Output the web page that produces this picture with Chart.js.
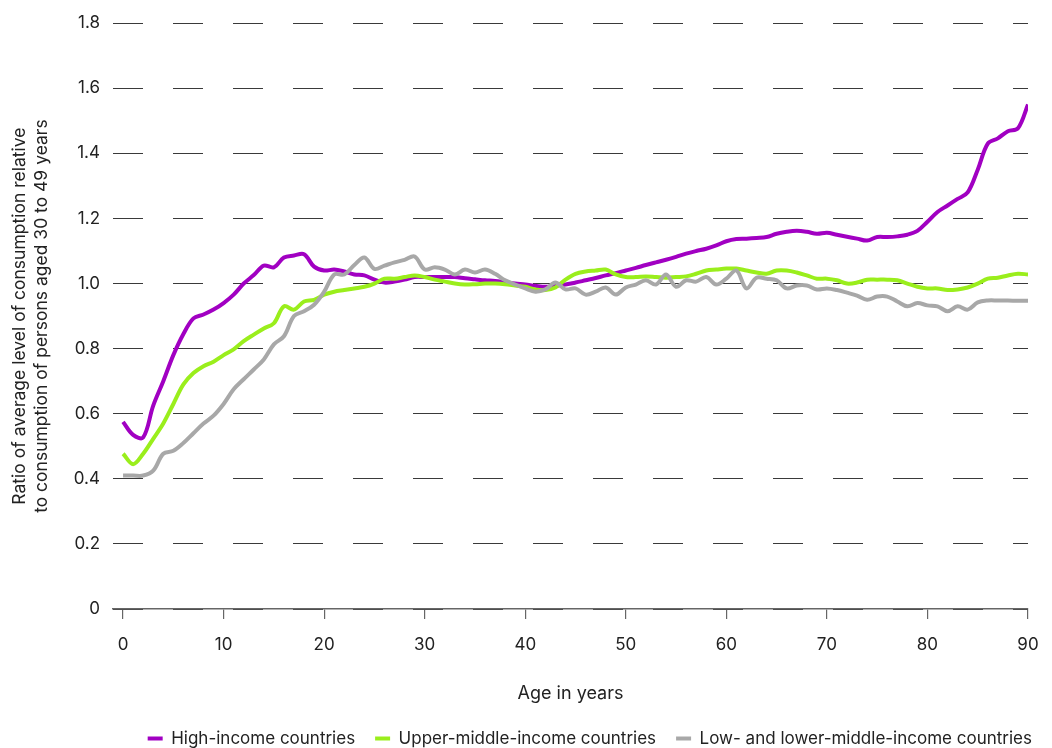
<!DOCTYPE html>
<html>
<head>
<meta charset="utf-8">
<script src="https://cdn.jsdelivr.net/npm/chart.js@4"></script>
<style>
  html, body { margin: 0; padding: 0; background: #fff; }
  #wrap { width: 1052px; height: 748px; position: relative; }
</style>
</head>
<body>
<div id="wrap"><canvas id="chart"></canvas></div>
<script>
// ─── data ────────────────────────────────────────────────────
const AGES = [
  0, 1, 2, 3, 4, 5, 6, 7, 8, 9, 10, 11, 12, 13, 14, 15, 16, 17, 18, 19,
  20, 21, 22, 23, 24, 25, 26, 27, 28, 29, 30, 31, 32, 33, 34, 35, 36, 37, 38, 39,
  40, 41, 42, 43, 44, 45, 46, 47, 48, 49, 50, 51, 52, 53, 54, 55, 56, 57, 58, 59,
  60, 61, 62, 63, 64, 65, 66, 67, 68, 69, 70, 71, 72, 73, 74, 75, 76, 77, 78, 79,
  80, 81, 82, 83, 84, 85, 86, 87, 88, 89, 90
]

const HIGH_INCOME = [
  0.575, 0.535, 0.527, 0.625, 0.700, 0.780, 0.845, 0.893, 0.905, 0.920,
  0.940, 0.966, 1.000, 1.026, 1.055, 1.050, 1.080, 1.086, 1.090, 1.052,
  1.040, 1.043, 1.037, 1.028, 1.025, 1.012, 1.003, 1.006, 1.012, 1.020,
  1.020, 1.020, 1.020, 1.020, 1.016, 1.013, 1.010, 1.008, 1.004, 1.000,
  0.997, 0.993, 0.990, 0.993, 0.997, 1.003, 1.010, 1.017, 1.025, 1.032,
  1.040, 1.048, 1.057, 1.065, 1.073, 1.082, 1.092, 1.100, 1.107, 1.117,
  1.130, 1.137, 1.138, 1.140, 1.143, 1.153, 1.159, 1.162, 1.159, 1.153,
  1.156, 1.150, 1.144, 1.138, 1.132, 1.143, 1.143, 1.145, 1.150, 1.162,
  1.190, 1.220, 1.240, 1.260, 1.280, 1.350, 1.430, 1.446, 1.468, 1.477,
  1.550
]

const UPPER_MIDDLE = [
  0.477, 0.445, 0.477, 0.523, 0.570, 0.630, 0.690, 0.725, 0.746, 0.760,
  0.780, 0.798, 0.823, 0.843, 0.862, 0.878, 0.930, 0.920, 0.945, 0.950,
  0.966, 0.975, 0.980, 0.985, 0.990, 1.000, 1.015, 1.015, 1.020, 1.025,
  1.020, 1.012, 1.006, 1.000, 0.997, 0.998, 1.000, 1.000, 0.998, 0.994,
  0.990, 0.982, 0.980, 0.988, 1.012, 1.030, 1.037, 1.040, 1.043, 1.028,
  1.020, 1.020, 1.022, 1.020, 1.018, 1.020, 1.022, 1.030, 1.040, 1.043,
  1.046, 1.046, 1.040, 1.034, 1.030, 1.040, 1.040, 1.034, 1.025, 1.015,
  1.015, 1.010, 1.000, 1.003, 1.012, 1.012, 1.012, 1.010, 1.000, 0.990,
  0.985, 0.985, 0.980, 0.982, 0.988, 1.000, 1.015, 1.018, 1.025, 1.030,
  1.028
]

const LOW_LOWER_MIDDLE = [
  0.410, 0.410, 0.410, 0.425, 0.477, 0.486, 0.510, 0.540, 0.570, 0.594,
  0.630, 0.675, 0.706, 0.736, 0.767, 0.813, 0.838, 0.900, 0.915, 0.935,
  0.975, 1.028, 1.028, 1.057, 1.080, 1.045, 1.055, 1.065, 1.073, 1.083,
  1.043, 1.050, 1.043, 1.028, 1.043, 1.034, 1.043, 1.030, 1.010, 0.997,
  0.985, 0.975, 0.982, 1.003, 0.982, 0.985, 0.966, 0.975, 0.988, 0.966,
  0.988, 0.997, 1.010, 0.997, 1.028, 0.990, 1.010, 1.006, 1.020, 0.997,
  1.015, 1.040, 0.985, 1.018, 1.015, 1.010, 0.985, 0.994, 0.994, 0.982,
  0.985, 0.980, 0.972, 0.963, 0.950, 0.960, 0.960, 0.945, 0.930, 0.940,
  0.933, 0.930, 0.915, 0.930, 0.920, 0.942, 0.948, 0.948, 0.948, 0.947,
  0.947
]

const X_TICKS = [0, 10, 20, 30, 40, 50, 60, 70, 80, 90]
const Y_TICKS = [0, 0.2, 0.4, 0.6, 0.8, 1.0, 1.2, 1.4, 1.6, 1.8]

const SERIES_LABELS = [
  'High-income countries',
  'Upper-middle-income countries',
  'Low- and lower-middle-income countries',
]

// ─── colours ─────────────────────────────────────────────────
const COLORS = {
  purple: '#A100C2',
  green:  '#9AEE1C',
  gray:   '#A8A8A8',
  text:   '#222222',
  grid:   '#3a3a3a',
  axis:   '#666666',
}

const FONT = "'Inter', 'Noto Sans', sans-serif"
Chart.defaults.font.family = FONT
Chart.defaults.color = COLORS.text

const toPoints = ys => AGES.map((a, i) => ({ x: a, y: ys[i] }))

function lineDataset(label, ys, color, order) {
  return {
    label,
    data: toPoints(ys),
    borderColor: color,
    backgroundColor: color,
    borderWidth: 4,
    pointRadius: 0,
    tension: 0.35,
    order,
  }
}

new Chart(document.getElementById('chart'), {
  type: 'line',
  data: {
    datasets: [
      lineDataset(SERIES_LABELS[0], HIGH_INCOME,      COLORS.purple, 3),
      lineDataset(SERIES_LABELS[1], UPPER_MIDDLE,     COLORS.green,  2),
      lineDataset(SERIES_LABELS[2], LOW_LOWER_MIDDLE, COLORS.gray,   1),
    ]
  },
  options: {
    responsive: true, maintainAspectRatio: false, animation: false,
    layout: { padding: { top: 20, right: 0, bottom: 0, left: 0 } },
    plugins: {
      tooltip: { enabled: false },
      legend: {
        position: 'bottom', align: 'end', maxHeight: 38,
        labels: {
          boxWidth: 15, boxHeight: 4, padding: 20,
          font: { size: 17 }, color: COLORS.text,
          sort: (a, b) => a.datasetIndex - b.datasetIndex,
          generateLabels: chart =>
            Chart.defaults.plugins.legend.labels.generateLabels(chart)
              .map(l => ({ ...l, lineWidth: 0 })),
        }
      }
    },
    scales: {
      x: {
        type: 'linear', min: -1, max: 90,
        afterBuildTicks: s => { s.ticks = X_TICKS.map(v => ({ value: v })) },
        afterFit: s => { s.height = 101; s.paddingRight = 24 },
        grid: { drawOnChartArea: false, drawTicks: true, tickLength: 10, color: COLORS.axis, lineWidth: 1.2 },
        border: { display: true, color: COLORS.axis, width: 1.5 },
        ticks: { padding: 16, font: { size: 17 }, color: COLORS.text },
        title: {
          display: true, text: 'Age in years',
          font: { size: 18 }, color: COLORS.text,
          padding: { top: 0, bottom: 6 }
        }
      },
      y: {
        min: 0, max: 1.8,
        afterBuildTicks: s => { s.ticks = Y_TICKS.map(v => ({ value: v })) },
        afterFit: s => { s.width = 113 },
        grid: { drawTicks: false, color: COLORS.grid, lineWidth: 1 },
        border: { display: false, dash: [30, 30], dashOffset: 0 },
        ticks: {
          padding: 13, font: { size: 17 }, color: COLORS.text,
          callback: v => v === 0 ? '0' : v.toFixed(1)
        },
        title: {
          display: true,
          text: ['Ratio of average level of consumption relative',
                 'to consumption of persons aged 30 to 49 years'],
          font: { size: 17.5, lineHeight: 1.257 }, color: COLORS.text,
          padding: { top: 9, bottom: 0 }
        }
      }
    }
  }
})
</script>
</body>
</html>
